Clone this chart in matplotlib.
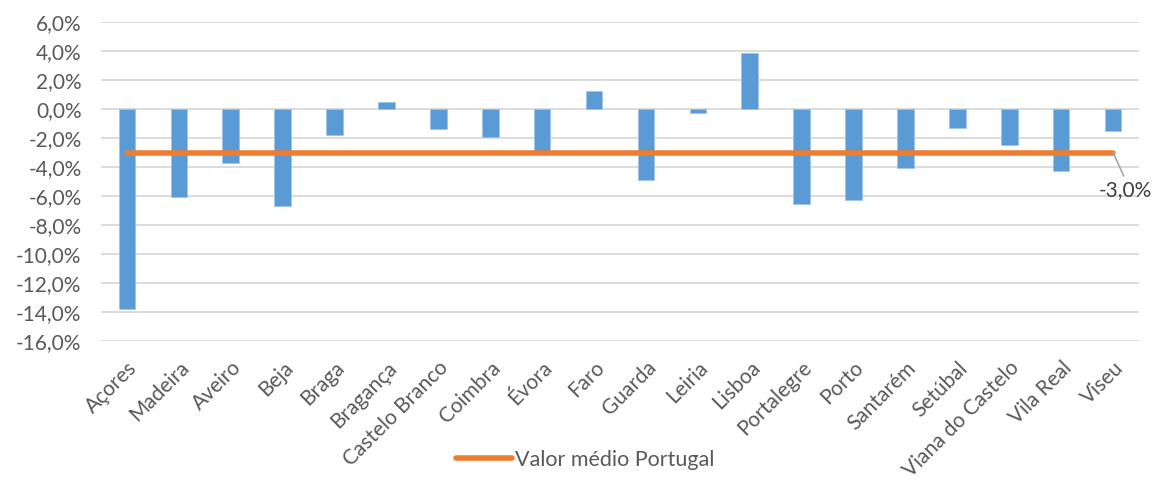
import matplotlib
matplotlib.use('Agg')
import matplotlib.pyplot as plt
from matplotlib.ticker import FuncFormatter

plt.rcParams['font.family'] = ['Lato', 'DejaVu Sans']

# Distritos / regiões
regioes = ['Açores', 'Madeira', 'Aveiro', 'Beja', 'Braga', 'Bragança', 'Castelo Branco',
           'Coimbra', 'Évora', 'Faro', 'Guarda', 'Leiria', 'Lisboa', 'Portalegre',
           'Porto', 'Santarém', 'Setúbal', 'Viana do Castelo', 'Vila Real', 'Viseu']

# Variação (%) por região
variacao = [-13.8, -6.1, -3.7, -6.7, -1.8, 0.5, -1.4, -1.9, -3.1, 1.25,
            -4.9, -0.3, 3.85, -6.55, -6.25, -4.05, -1.3, -2.5, -4.25, -1.55]

# Valor médio Portugal
media_pt = -3.0
media_label = 'Valor médio Portugal'

grey = '#595959'

fig = plt.figure(figsize=(11.56, 4.84), dpi=100)
ax = fig.add_axes([101 / 1156, 1 - 341 / 484, 1038 / 1156, 319 / 484])

x = list(range(len(regioes)))
ax.bar(x, variacao, width=0.32, color='#5B9BD5', edgecolor='#9DC3E6', linewidth=0.5, zorder=2)
ax.plot(x, [media_pt] * len(x), color='#ED7D31', linewidth=4, solid_capstyle='round',
        label=media_label, zorder=3)

# Rótulo do último ponto da média
ax.annotate(f'{media_pt:.1f}%'.replace('.', ','), xy=(x[-1], media_pt),
            xytext=(9, -27), textcoords='offset points', ha='center', va='center',
            fontsize=15, color='#404040',
            arrowprops=dict(arrowstyle='-', color='#A6A6A6', lw=1.2, shrinkA=1, shrinkB=0,
                            relpos=(0.5, 1)))

ax.set_xlim(-0.5, len(regioes) - 0.5)
ax.set_ylim(-16, 6)
ax.set_yticks(range(-16, 7, 2))
ax.yaxis.set_major_formatter(FuncFormatter(lambda v, p: f'{v:.1f}%'.replace('.', ',')))
ax.set_xticks(x)
ax.set_xticklabels(regioes, rotation=45, ha='right', rotation_mode='anchor')

ax.tick_params(axis='y', length=0, pad=14, labelsize=15, labelcolor=grey)
ax.tick_params(axis='x', length=0, pad=12, labelsize=15, labelcolor=grey)
ax.grid(axis='y', color='#D9D9D9', linewidth=1.3, zorder=0)
ax.set_axisbelow(True)
for s in ax.spines.values():
    s.set_visible(False)

fig.legend(loc='center', bbox_to_anchor=(0.506, 0.05), frameon=False, fontsize=15.5,
           labelcolor=grey, handlelength=2.6, handletextpad=0.15)

fig.savefig('out.png', dpi=100)
